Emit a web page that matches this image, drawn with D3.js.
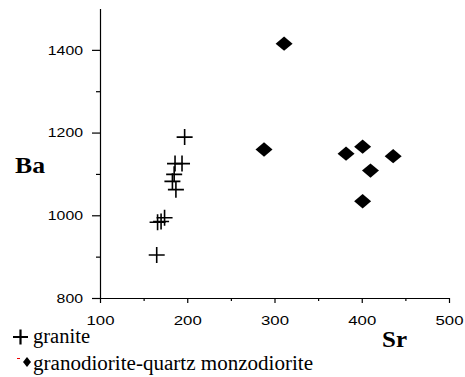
<!DOCTYPE html>
<html><head><meta charset="utf-8">
<script src="https://cdn.jsdelivr.net/npm/d3@7/dist/d3.min.js"></script>
<style>body{margin:0;background:#fff}svg{display:block}</style>
</head><body>
<svg id="c" width="465" height="377"></svg>
<script>
const graniteSr = [197, 186, 194, 185, 183, 187, 174, 166, 170, 165];
const graniteBa = [1189, 1125, 1125, 1099, 1082, 1062, 994, 983, 985, 904];
const granodioriteSr = [311, 288, 382, 401, 436, 410, 401];
const granodioriteBa = [1415, 1159, 1149, 1166, 1143, 1108, 1034];
const xTicks = [100, 200, 300, 400, 500];
const xMinor = [150, 250, 350, 450];
const yTicks = [800, 1000, 1200, 1400];
const yMinor = [900, 1100, 1300];
const legendLabels = ["granite", "granodiorite-quartz monzodiorite"];

const svg = d3.select("#c");
const x = d3.scaleLinear().domain([100, 500]).range([100, 449]);
const y = d3.scaleLinear().domain([800, 1500]).range([298, 8.5]);
const fmt = d3.format("d");

// axes
const gy = svg.append("g").attr("transform", "translate(100,0)")
  .call(d3.axisLeft(y).tickValues(yTicks).tickSize(8).tickSizeOuter(0).tickPadding(9).tickFormat(fmt));
gy.selectAll(".tick text").attr("textLength", d => fmt(d).length * 8.8).attr("lengthAdjust", "spacingAndGlyphs");
svg.append("g").attr("transform", "translate(100,0)")
  .call(d3.axisLeft(y).tickValues(yMinor).tickSize(4).tickSizeOuter(0).tickFormat(""))
  .select(".domain").remove();
const gx = svg.append("g").attr("transform", "translate(0,298)")
  .call(d3.axisBottom(x).tickValues(xTicks).tickSize(5).tickSizeOuter(0).tickPadding(13).tickFormat(fmt));
gx.selectAll(".tick text").attr("textLength", 28).attr("lengthAdjust", "spacingAndGlyphs");
svg.append("g").attr("transform", "translate(0,298)")
  .call(d3.axisBottom(x).tickValues(xMinor).tickSize(3).tickSizeOuter(0).tickFormat(""))
  .select(".domain").remove();
svg.selectAll(".tick text").attr("font-family", "Liberation Sans, Arial, sans-serif").attr("font-size", 13).attr("fill", "#000");
svg.selectAll(".domain, .tick line").attr("stroke", "#000").attr("stroke-width", 1.2);

// axis titles
svg.append("text").attr("x", 15).attr("y", 173).text("Ba")
  .attr("textLength", 30).attr("lengthAdjust", "spacingAndGlyphs")
  .attr("font-family", "Liberation Serif, Times New Roman, serif").attr("font-weight", "bold").attr("font-size", 24);
svg.append("text").attr("x", 382).attr("y", 347).text("Sr")
  .attr("textLength", 25).attr("lengthAdjust", "spacingAndGlyphs")
  .attr("font-family", "Liberation Serif, Times New Roman, serif").attr("font-weight", "bold").attr("font-size", 23);

// granite crosses
const plus = (cx, cy, h) => `M${cx - h},${cy}H${cx + h}M${cx},${cy - h}V${cy + h}`;
svg.append("g").selectAll("path").data(graniteSr).join("path")
  .attr("d", (d, i) => plus(x(d), y(graniteBa[i]), 8))
  .attr("stroke", "#000").attr("stroke-width", 1.6).attr("fill", "none");

// granodiorite diamonds
const diamond = (cx, cy, w, h) => `M${cx},${cy - h}L${cx + w},${cy}L${cx},${cy + h}L${cx - w},${cy}Z`;
svg.append("g").selectAll("path").data(granodioriteSr).join("path")
  .attr("d", (d, i) => diamond(x(d), y(granodioriteBa[i]), 8.5, 7.2))
  .attr("fill", "#000");

// legend
svg.append("path").attr("d", plus(20.5, 337, 7.5)).attr("stroke", "#000").attr("stroke-width", 2.2);
svg.append("line").attr("x1", 17).attr("x2", 20).attr("y1", 358.5).attr("y2", 358.5).attr("stroke", "#e00").attr("stroke-width", 1);
svg.append("path").attr("d", diamond(27, 362, 4, 5)).attr("fill", "#000");
const legLen = [57, 280];
svg.selectAll(".leg").data(legendLabels).join("text")
  .attr("x", 33).attr("y", (d, i) => 343 + i * 27).text(d => d)
  .attr("textLength", (d, i) => legLen[i]).attr("lengthAdjust", "spacingAndGlyphs")
  .attr("font-family", "Liberation Serif, Times New Roman, serif").attr("font-size", 20).attr("fill", "#000");
</script>
</body></html>
